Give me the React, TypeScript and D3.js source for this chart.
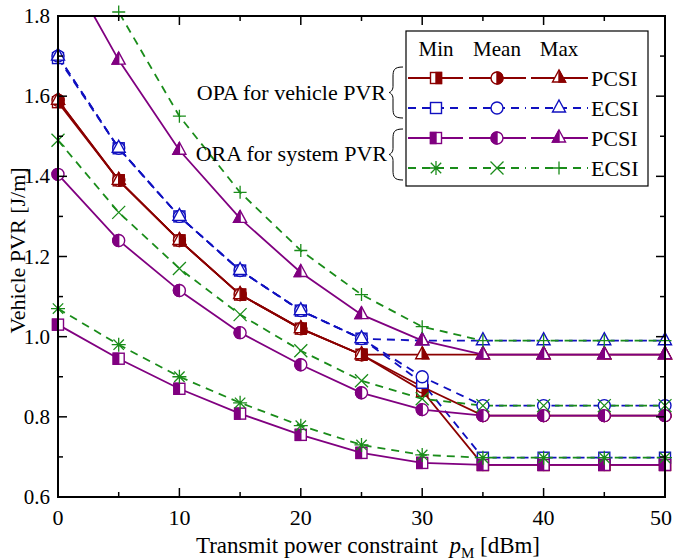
import React from 'react';
import * as d3 from 'd3';

const powers = [0, 5, 10, 15, 20, 25, 30, 35, 40, 45, 50];

// OPA for vehicle PVR, perfect CSI
const opaPcsiMin = [1.585, 1.39, 1.24, 1.105, 1.02, 0.955, 0.865, 0.68, 0.68, 0.68, 0.68];
const opaPcsiMean = [1.59, 1.39, 1.24, 1.105, 1.02, 0.955, 0.875, 0.803, 0.803, 0.803, 0.803];
const opaPcsiMax = [1.59, 1.39, 1.24, 1.105, 1.02, 0.955, 0.955, 0.955, 0.955, 0.955, 0.955];
// OPA for vehicle PVR, estimated CSI
const opaEcsiMin = [1.695, 1.47, 1.3, 1.165, 1.065, 0.995, 0.885, 0.698, 0.698, 0.698, 0.698];
const opaEcsiMean = [1.7, 1.47, 1.3, 1.165, 1.065, 0.995, 0.9, 0.828, 0.828, 0.828, 0.828];
const opaEcsiMax = [1.7, 1.47, 1.3, 1.165, 1.065, 0.995, 0.99, 0.99, 0.99, 0.99, 0.99];
// ORA for system PVR, perfect CSI
const oraPcsiMin = [1.03, 0.945, 0.87, 0.808, 0.755, 0.71, 0.685, 0.68, 0.68, 0.68, 0.68];
const oraPcsiMean = [1.405, 1.24, 1.115, 1.01, 0.93, 0.86, 0.818, 0.803, 0.803, 0.803, 0.803];
const oraPcsiMax = [1.96, 1.69, 1.465, 1.295, 1.16, 1.055, 0.99, 0.955, 0.955, 0.955, 0.955];
// ORA for system PVR, estimated CSI
const oraEcsiMin = [1.07, 0.98, 0.9, 0.835, 0.778, 0.73, 0.705, 0.698, 0.698, 0.698, 0.698];
const oraEcsiMean = [1.49, 1.31, 1.17, 1.055, 0.965, 0.89, 0.845, 0.828, 0.828, 0.828, 0.828];
const oraEcsiMax = [2.12, 1.81, 1.55, 1.36, 1.215, 1.105, 1.025, 0.99, 0.99, 0.99, 0.99];

const xTicks = [0, 10, 20, 30, 40, 50];
const yTicks = [0.6, 0.8, 1.0, 1.2, 1.4, 1.6, 1.8];
const statLabels = ['Min', 'Mean', 'Max'];
const rowLabels = ['PCSI', 'ECSI', 'PCSI', 'ECSI'];
const groupLabels = ['OPA for vehicle PVR', 'ORA for system PVR'];

const DARKRED = '#8b0000';
const BLUE = '#1010c0';
const PURPLE = '#800080';
const GREEN = '#1a8c1a';

const width = 673;
const height = 560;
const margin = { left: 58, right: 8, top: 16, bottom: 63 };
const FONT = '"Liberation Serif", "Times New Roman", serif';

type Marker = 'square' | 'circle' | 'triangle' | 'asterisk' | 'cross' | 'plus';

const groups = [
  { color: DARKRED, dashed: false, half: 'right', markers: ['square', 'circle', 'triangle'], data: [opaPcsiMin, opaPcsiMean, opaPcsiMax] },
  { color: BLUE, dashed: true, half: null, markers: ['square', 'circle', 'triangle'], data: [opaEcsiMin, opaEcsiMean, opaEcsiMax] },
  { color: PURPLE, dashed: false, half: 'left', markers: ['square', 'circle', 'triangle'], data: [oraPcsiMin, oraPcsiMean, oraPcsiMax] },
  { color: GREEN, dashed: true, half: null, markers: ['asterisk', 'cross', 'plus'], data: [oraEcsiMin, oraEcsiMean, oraEcsiMax] },
];

function drawMarker(kind: Marker, cx: number, cy: number, color: string, half: string | null, key: string) {
  const sw = 1.4;
  if (kind === 'square') {
    const s = 11;
    return (
      <g key={key}>
        <rect x={cx - s / 2} y={cy - s / 2} width={s} height={s} fill="white" stroke={color} strokeWidth={sw} />
        {half && <rect x={half === 'left' ? cx - s / 2 : cx} y={cy - s / 2} width={s / 2} height={s} fill={color} stroke={color} strokeWidth={sw} />}
      </g>
    );
  }
  if (kind === 'circle') {
    const r = 6;
    const sweep = half === 'left' ? 0 : 1;
    return (
      <g key={key}>
        <circle cx={cx} cy={cy} r={r} fill="white" stroke={color} strokeWidth={sw} />
        {half && <path d={`M${cx},${cy - r}A${r},${r} 0 0 ${sweep} ${cx},${cy + r}Z`} fill={color} stroke={color} strokeWidth={sw} />}
      </g>
    );
  }
  if (kind === 'triangle') {
    const w = 13;
    const h = 12;
    const top = cy - (h * 2) / 3;
    const base = cy + h / 3;
    const side = half === 'left' ? cx - w / 2 : cx + w / 2;
    return (
      <g key={key}>
        <path d={`M${cx},${top}L${cx + w / 2},${base}L${cx - w / 2},${base}Z`} fill="white" stroke={color} strokeWidth={sw} />
        {half && <path d={`M${cx},${top}L${cx},${base}L${side},${base}Z`} fill={color} stroke={color} strokeWidth={sw} />}
      </g>
    );
  }
  const a = 7;
  const d = 5.2;
  let p = '';
  if (kind === 'asterisk') p = `M${cx - a},${cy}H${cx + a}M${cx},${cy - a}V${cy + a}M${cx - d},${cy - d}L${cx + d},${cy + d}M${cx - d},${cy + d}L${cx + d},${cy - d}`;
  if (kind === 'cross') p = `M${cx - 6.5},${cy - 6.5}L${cx + 6.5},${cy + 6.5}M${cx - 6.5},${cy + 6.5}L${cx + 6.5},${cy - 6.5}`;
  if (kind === 'plus') p = `M${cx - 6.5},${cy}H${cx + 6.5}M${cx},${cy - 6.5}V${cy + 6.5}`;
  return <path key={key} d={p} fill="none" stroke={color} strokeWidth={1.3} />;
}

function brace(x: number, y0: number, y1: number) {
  const m = (y0 + y1) / 2;
  const w = 13;
  return `M${x + w},${y0}C${x + 4},${y0} ${x + 3},${y0 + 3} ${x + 3},${y0 + 10}L${x + 3},${m - 6}C${x + 3},${m - 2} ${x},${m} ${x - 1},${m}` +
    `C${x},${m} ${x + 3},${m + 2} ${x + 3},${m + 6}L${x + 3},${y1 - 10}C${x + 3},${y1 - 3} ${x + 4},${y1} ${x + w},${y1}`;
}

export default function App() {
  const x = d3.scaleLinear().domain([0, 50]).range([margin.left, width - margin.right]);
  const y = d3.scaleLinear().domain([0.6, 1.8]).range([height - margin.bottom, margin.top]);
  const [x0, x1] = x.range();
  const [yb, yt] = y.range();
  const line = d3.line<number>().x((_, i) => x(powers[i])).y((v) => y(v));

  const xMinor = d3.range(0, 51, 5);
  const yMinor = d3.range(6, 19).map((v) => v / 10);

  const rowsY = [78, 108, 138, 168];
  const markX = [436, 497, 559];
  const segs = [[408, 463], [469, 526], [531, 588]];

  return (
    <svg width={width} height={height} style={{ position: 'absolute', left: 0, top: 0, background: 'white' }} fontFamily={FONT}>
      <defs>
        <clipPath id="plotClip">
          <rect x={x0} y={yt} width={x1 - x0} height={yb - yt} />
        </clipPath>
      </defs>

      {/* series lines */}
      <g clipPath="url(#plotClip)">
        {groups.map((g, gi) =>
          g.data.map((vals, si) => (
            <path key={`l${gi}${si}`} d={line(vals) || ''} fill="none" stroke={g.color} strokeWidth={1.8}
              strokeDasharray={g.dashed ? '8,6' : undefined} />
          ))
        )}
      </g>
      {/* markers */}
      {groups.map((g, gi) =>
        g.data.map((vals, si) =>
          vals.map((v, i) =>
            v <= 1.82 ? drawMarker(g.markers[si] as Marker, x(powers[i]), y(v), g.color, g.half, `m${gi}${si}${i}`) : null
          )
        )
      )}

      {/* frame with inward ticks */}
      <rect x={x0} y={yt} width={x1 - x0} height={yb - yt} fill="none" stroke="black" strokeWidth={2} />
      {xMinor.map((t) => {
        const len = t % 10 === 0 ? 9 : 5;
        return (
          <g key={`xt${t}`} stroke="black" strokeWidth={1.5}>
            <line x1={x(t)} x2={x(t)} y1={yb} y2={yb - len} />
            <line x1={x(t)} x2={x(t)} y1={yt} y2={yt + len} />
          </g>
        );
      })}
      {yMinor.map((t, i) => {
        const len = i % 2 === 0 ? 9 : 5;
        return (
          <g key={`yt${i}`} stroke="black" strokeWidth={1.5}>
            <line x1={x0} x2={x0 + len} y1={y(t)} y2={y(t)} />
            <line x1={x1} x2={x1 - len} y1={y(t)} y2={y(t)} />
          </g>
        );
      })}
      {xTicks.map((t, i) => (
        <text key={`xl${t}`} x={i === xTicks.length - 1 ? width - 1 : x(t)} y={yb + 28}
          textAnchor={i === xTicks.length - 1 ? 'end' : 'middle'} fontSize={22}>{t}</text>
      ))}
      {yTicks.map((t) => (
        <text key={`yl${t}`} x={x0 - 8} y={y(t) + 7} textAnchor="end" fontSize={21}>{t.toFixed(1)}</text>
      ))}

      {/* axis titles */}
      <text x={368} y={553} textAnchor="middle" fontSize={23}>
        Transmit power constraint{'\u00a0\u00a0'}
        <tspan fontStyle="italic">p</tspan>
        <tspan fontSize={15} dy={5}>M</tspan>
        <tspan dy={-5}> [dBm]</tspan>
      </text>
      <text transform={`translate(25,${(yt + yb) / 2 - 6}) rotate(-90)`} textAnchor="middle" fontSize={22}>Vehicle PVR [J/m]</text>

      {/* legend */}
      <rect x={406} y={31} width={242} height={155} fill="white" stroke="black" strokeWidth={1.2} />
      {statLabels.map((s, i) => (
        <text key={s} x={markX[i]} y={56} textAnchor="middle" fontSize={21}>{s}</text>
      ))}
      {groups.map((g, gi) => (
        <g key={`lg${gi}`}>
          {segs.map((sg, si) => (
            <line key={si} x1={sg[0]} x2={sg[1]} y1={rowsY[gi]} y2={rowsY[gi]} stroke={g.color} strokeWidth={1.8}
              strokeDasharray={g.dashed ? '8,6' : undefined} />
          ))}
          {g.markers.map((m, si) => drawMarker(m as Marker, markX[si], rowsY[gi], g.color, g.half, `lm${gi}${si}`))}
          <text x={591} y={rowsY[gi] + 8} fontSize={22}>{rowLabels[gi]}</text>
        </g>
      ))}
      <path d={brace(390, 67, 118)} fill="none" stroke="black" strokeWidth={1} />
      <path d={brace(390, 129, 180)} fill="none" stroke="black" strokeWidth={1} />
      <text x={386} y={100} textAnchor="end" fontSize={22}>{groupLabels[0]}</text>
      <text x={387} y={161} textAnchor="end" fontSize={22}>{groupLabels[1]}</text>
    </svg>
  );
}
